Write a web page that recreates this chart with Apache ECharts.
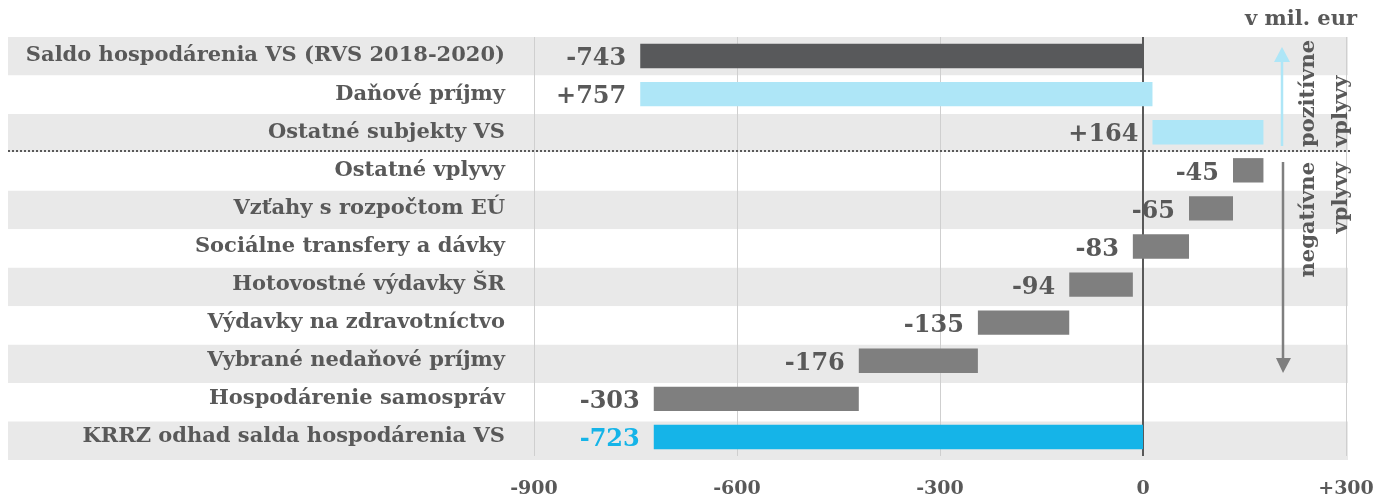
<!DOCTYPE html>
<html>
<head>
<meta charset="utf-8">
<script src="https://cdn.jsdelivr.net/npm/echarts@6/dist/echarts.min.js"></script>
<style>
  html, body { margin: 0; padding: 0; background: #fff; }
  #chart { width: 1389px; height: 499px; }
</style>
</head>
<body>
<div id="chart"></div>
<script>
// categories top to bottom
const categories = [
  "Saldo hospodárenia VS (RVS 2018-2020)",
  "Daňové príjmy",
  "Ostatné subjekty VS",
  "Ostatné vplyvy",
  "Vzťahy s rozpočtom EÚ",
  "Sociálne transfery a dávky",
  "Hotovostné výdavky ŠR",
  "Výdavky na zdravotníctvo",
  "Vybrané nedaňové príjmy",
  "Hospodárenie samospráv",
  "KRRZ odhad salda hospodárenia VS"
];
// change in mil. eur
const changes = [-743, 757, 164, -45, -65, -83, -94, -135, -176, -303, -723];
// start/end are totals drawn from zero, the rest float (waterfall)
const kinds = ["start", "plus", "plus", "minus", "minus", "minus", "minus", "minus", "minus", "minus", "end"];
const valueLabels = ["-743", "+757", "+164", "-45", "-65", "-83", "-94", "-135", "-176", "-303", "-723"];
const xMin = -900, xMax = 300, xStep = 300;

const colors = {
  start: "#58595b",
  plus: "#aee6f7",
  minus: "#7f7f7f",
  end: "#15b4e8"
};
const textGray = "#595959";
const serif = '"DejaVu Serif", "Liberation Serif", serif';

// build from/to spans for the waterfall
let running = 0;
const spans = changes.map((v, i) => {
  let from, to;
  if (kinds[i] === "start" || kinds[i] === "end") {
    from = 0; to = v; running = v;
  } else {
    from = running; to = running + v; running = to;
  }
  return [i, from, to, i];
});

const chart = echarts.init(document.getElementById("chart"), null, { renderer: "canvas" });

const gridTop = 37, gridBottom = 39;

const option = {
  animation: false,
  backgroundColor: "#fff",
  grid: [
    { left: 534, right: 43, top: gridTop, bottom: gridBottom },
    { left: 8, right: 41, top: gridTop, bottom: gridBottom } // row stripes behind labels
  ],
  xAxis: [
    {
      gridIndex: 0,
      type: "value",
      min: xMin, max: xMax, interval: xStep,
      axisLine: { show: false },
      axisTick: { show: false },
      splitLine: { show: true, lineStyle: { color: "#cfcfcf", width: 1 } },
      axisLabel: {
        margin: 24,
        color: textGray,
        fontFamily: serif,
        fontWeight: "bold",
        fontSize: 19,
        formatter: (v) => (v > 0 ? "+" + v : String(v))
      }
    },
    { gridIndex: 1, type: "value", show: false, min: 0, max: 1 }
  ],
  yAxis: [
    {
      gridIndex: 0,
      type: "category",
      data: categories,
      inverse: true,
      axisLine: { show: false },
      axisTick: { show: false },
      splitLine: { show: false },
      axisLabel: {
        margin: 29,
        color: textGray,
        fontFamily: serif,
        fontWeight: "bold",
        fontSize: 21
      }
    },
    {
      gridIndex: 1,
      type: "category",
      data: categories,
      inverse: true,
      axisLine: { show: false },
      axisTick: { show: false },
      axisLabel: { show: false },
      splitArea: { show: true, areaStyle: { color: ["#e9e9e9", "#ffffff"] } }
    }
  ],
  series: [
    {
      type: "custom",
      xAxisIndex: 0,
      yAxisIndex: 0,
      encode: { x: [1, 2], y: 0 },
      data: spans,
      z: 5,
      renderItem: (params, api) => {
        const idx = api.value(3);
        const p1 = api.coord([api.value(1), api.value(0)]);
        const p2 = api.coord([api.value(2), api.value(0)]);
        const h = api.size([0, 1])[1] * 0.64;
        const left = Math.min(p1[0], p2[0]);
        const w = Math.abs(p2[0] - p1[0]);
        const kind = kinds[idx];
        return {
          type: "group",
          children: [
            {
              type: "rect",
              shape: { x: left, y: p1[1] - h / 2, width: w, height: h },
              style: { fill: colors[kind] }
            },
            {
              type: "text",
              style: {
                x: left - 14,
                y: p1[1] + 3,
                text: valueLabels[idx],
                fill: kind === "end" ? colors.end : textGray,
                font: 'bold 24px ' + serif,
                align: "right",
                verticalAlign: "middle"
              }
            }
          ]
        };
      },
      markLine: {
        silent: true,
        symbol: "none",
        label: { show: false },
        lineStyle: { color: "#595959", width: 2, type: "solid" },
        data: [{ xAxis: 0 }]
      }
    }
  ],
  graphic: [
    // unit
    {
      type: "text", right: 32, top: 9, z: 100,
      style: { text: "v mil. eur", fill: textGray, font: "bold 21px " + serif }
    },
    // separator between positive and negative contributions
    {
      type: "line", z: 100,
      shape: { x1: 8, y1: 151, x2: 1352, y2: 151 },
      style: { stroke: "#595959", lineWidth: 2, lineDash: [2, 2] }
    },
    // positive arrow
    {
      type: "line", z: 100,
      shape: { x1: 1282, y1: 146, x2: 1282, y2: 60 },
      style: { stroke: colors.plus, lineWidth: 2.5 }
    },
    {
      type: "polygon", z: 100,
      shape: { points: [[1274, 62], [1290, 62], [1282, 47]] },
      style: { fill: colors.plus }
    },
    {
      type: "text", x: 1292, y: 147, rotation: Math.PI / 2, z: 100,
      style: {
        text: "pozitívne\nvplyvy", fill: textGray, font: "bold 21px " + serif,
        lineHeight: 33, align: "left", verticalAlign: "top"
      }
    },
    // negative arrow
    {
      type: "line", z: 100,
      shape: { x1: 1283, y1: 162, x2: 1283, y2: 360 },
      style: { stroke: colors.minus, lineWidth: 2.5 }
    },
    {
      type: "polygon", z: 100,
      shape: { points: [[1276, 358], [1291, 358], [1283, 373]] },
      style: { fill: colors.minus }
    },
    {
      type: "text", x: 1292, y: 162, rotation: Math.PI / 2, z: 100,
      style: {
        text: "negatívne\nvplyvy", fill: textGray, font: "bold 21px " + serif,
        lineHeight: 33, align: "right", verticalAlign: "top"
      }
    }
  ]
};

chart.setOption(option);
window.addEventListener("resize", () => chart.resize());
</script>
</body>
</html>
